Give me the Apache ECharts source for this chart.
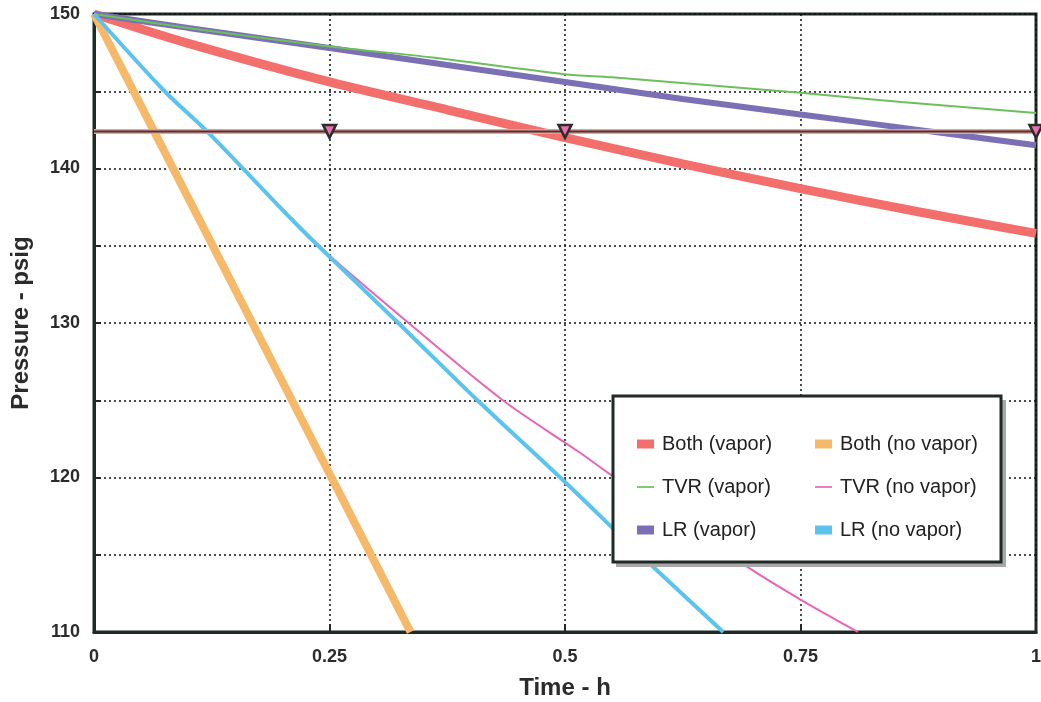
<!DOCTYPE html>
<html>
<head>
<meta charset="utf-8">
<script src="https://cdn.jsdelivr.net/npm/echarts@6/dist/echarts.min.js"></script>
<style>
html,body{margin:0;padding:0;background:#fff;}
#chart{width:1041px;height:702px;}
</style>
</head>
<body>
<div id="chart"></div>
<script>
// ---- data (time h, pressure psig) ----
const xTicks = [0, 0.25, 0.5, 0.75, 1];
const yTicks = [110, 120, 130, 140, 150];

const bothVapor   = [[0,150],[0.1,148.1],[0.25,145.6],[0.375,143.8],[0.5,142.0],[0.625,140.3],[0.75,138.7],[0.875,137.2],[1,135.8]];
const bothNoVapor = [[0,150],[0.1,138.1],[0.2,126.2],[0.3,114.3],[0.336,110]];
const tvrVapor    = [[0,150],[0.1,149.1],[0.25,147.9],[0.357,147.2],[0.5,146.1],[0.55,145.9],[0.75,144.9],[0.857,144.3],[1,143.6]];
const tvrNoVapor  = [[0,150],[0.075,145],[0.12,142.4],[0.21,136.7],[0.238,135],[0.334,130],[0.434,125],[0.516,121.6],[0.548,120.2],[0.694,114.2],[0.75,112.1],[0.811,110]];
const lrVapor     = [[0,150],[0.1,149.1],[0.25,147.8],[0.375,146.7],[0.5,145.6],[0.625,144.5],[0.75,143.5],[0.875,142.5],[1,141.5]];
const lrNoVapor   = [[0,150],[0.075,145],[0.12,142.4],[0.21,136.7],[0.238,135],[0.323,130],[0.407,125],[0.495,120],[0.58,115],[0.668,110]];

const refLevel = 142.4;
const refLineTimes = [0, 0.25, 0.5, 1];
const refMarkerTimes = [0.25, 0.5, 1];

const names = ['Both (vapor)','Both (no vapor)','TVR (vapor)','TVR (no vapor)','LR (vapor)','LR (no vapor)'];

// ---- chart ----
const chart = echarts.init(document.getElementById('chart'), null, {renderer:'canvas'});
const dark = '#1f2a24';
const txt = '#2b2b2b';
const font = '"Liberation Sans", Arial, Helvetica, sans-serif';
const thinIcon = 'path://M0,0 L40,0 L40,4 L0,4 Z';

const refData = refLineTimes.map(t => ({
  value: [t, refLevel],
  symbol: refMarkerTimes.includes(t) ? 'triangle' : 'none'
}));

const legendText = {fontFamily: font, fontSize: 20, color: '#222', lineHeight: 22, padding: [0,0,0,3]};

const option = {
  backgroundColor: '#fff',
  animation: false,
  grid: {left: 94, right: 5, top: 14, bottom: 70, show: true, borderColor: dark, borderWidth: 3,
    backgroundColor:'transparent', containLabel: false, outerBoundsMode: 'none'},
  xAxis: {
    type: 'value', min: 0, max: 1, interval: 0.25,
    name: 'Time - h', nameLocation: 'middle', nameGap: 44,
    nameTextStyle: {fontFamily: font, fontWeight: 'bold', fontSize: 24, color: txt},
    axisLine: {show: true, lineStyle: {color: dark, width: 3}},
    axisTick: {show: true, inside: true, length: 8, lineStyle: {color: dark, width: 2}},
    axisLabel: {fontFamily: font, fontWeight: 'bold', fontSize: 18, color: txt, margin: 16,
      formatter: v => xTicks.includes(v) ? String(v) : ''},
    splitLine: {show: true, lineStyle: {color: '#111', width: 1.5, type: [2, 3]}}
  },
  yAxis: {
    type: 'value', min: 110, max: 150, interval: 5,
    name: 'Pressure - psig', nameLocation: 'middle', nameGap: 61,
    nameTextStyle: {fontFamily: font, fontWeight: 'bold', fontSize: 24, color: txt},
    axisLine: {show: true, lineStyle: {color: dark, width: 3}},
    axisTick: {show: true, inside: true, length: 7, lineStyle: {color: dark, width: 2}},
    axisLabel: {fontFamily: font, fontWeight: 'bold', fontSize: 18, color: txt, margin: 14,
      formatter: v => yTicks.includes(v) ? String(v) : ''},
    splitLine: {show: true, lineStyle: {color: '#111', width: 1.5, type: [2, 3]}}
  },
  legend: [
    {
      orient: 'vertical', left: 632, top: 428, itemWidth: 17, itemHeight: 9, itemGap: 21,
      textStyle: legendText, symbolKeepAspect: true,
      data: [{name: names[0], icon: 'rect'}, {name: names[2], icon: thinIcon}, {name: names[4], icon: 'rect'}],
      selectedMode: false, z: 20
    },
    {
      orient: 'vertical', left: 810, top: 428, itemWidth: 17, itemHeight: 9, itemGap: 21,
      textStyle: legendText, symbolKeepAspect: true,
      data: [{name: names[1], icon: 'rect'}, {name: names[3], icon: thinIcon}, {name: names[5], icon: 'rect'}],
      selectedMode: false, z: 20
    }
  ],
  graphic: [
    {type: 'rect', z: 10, shape: {x: 616, y: 400, width: 390, height: 167}, style: {fill: '#a8a8a8'}},
    {type: 'rect', z: 11, shape: {x: 613, y: 396, width: 388, height: 166}, style: {fill: '#fff', stroke: dark, lineWidth: 3}}
  ],
  series: [
    {name: names[0], type: 'line', data: bothVapor, symbol: 'none', smooth: 0.3, z: 2,
      lineStyle: {color: '#f36f6c', width: 9}, itemStyle: {color: '#f36f6c'}},
    {name: names[1], type: 'line', data: bothNoVapor, symbol: 'none', z: 2,
      lineStyle: {color: '#f6b96a', width: 8}, itemStyle: {color: '#f6b96a'}},
    {name: names[4], type: 'line', data: lrVapor, symbol: 'none', smooth: 0.3, z: 3,
      lineStyle: {color: '#7b70b4', width: 6}, itemStyle: {color: '#7b70b4'}},
    {name: names[2], type: 'line', data: tvrVapor, symbol: 'none', smooth: 0.3, z: 4,
      lineStyle: {color: '#6cbf5c', width: 2}, itemStyle: {color: '#6cbf5c'}},
    {name: names[3], type: 'line', data: tvrNoVapor, symbol: 'none', smooth: 0.3, z: 4,
      lineStyle: {color: '#e865b4', width: 2}, itemStyle: {color: '#e865b4'}},
    {name: names[5], type: 'line', data: lrNoVapor, symbol: 'none', smooth: 0.3, z: 5,
      lineStyle: {color: '#5cc3ef', width: 4}, itemStyle: {color: '#5cc3ef'}},
    {name: 'ref-under', type: 'line', data: refLineTimes.map(t => [t, refLevel]), symbol: 'none', z: 6,
      lineStyle: {color: '#f4a07a', width: 5}, silent: true},
    {name: 'ref', type: 'line', data: refData, symbolSize: 13, symbolRotate: 180, z: 7, clip: false,
      lineStyle: {color: '#3a3550', width: 2},
      itemStyle: {color: '#ea6fb3', borderColor: '#2a2f2a', borderWidth: 2.5}, silent: true}
  ]
};
chart.setOption(option);
</script>
</body>
</html>
